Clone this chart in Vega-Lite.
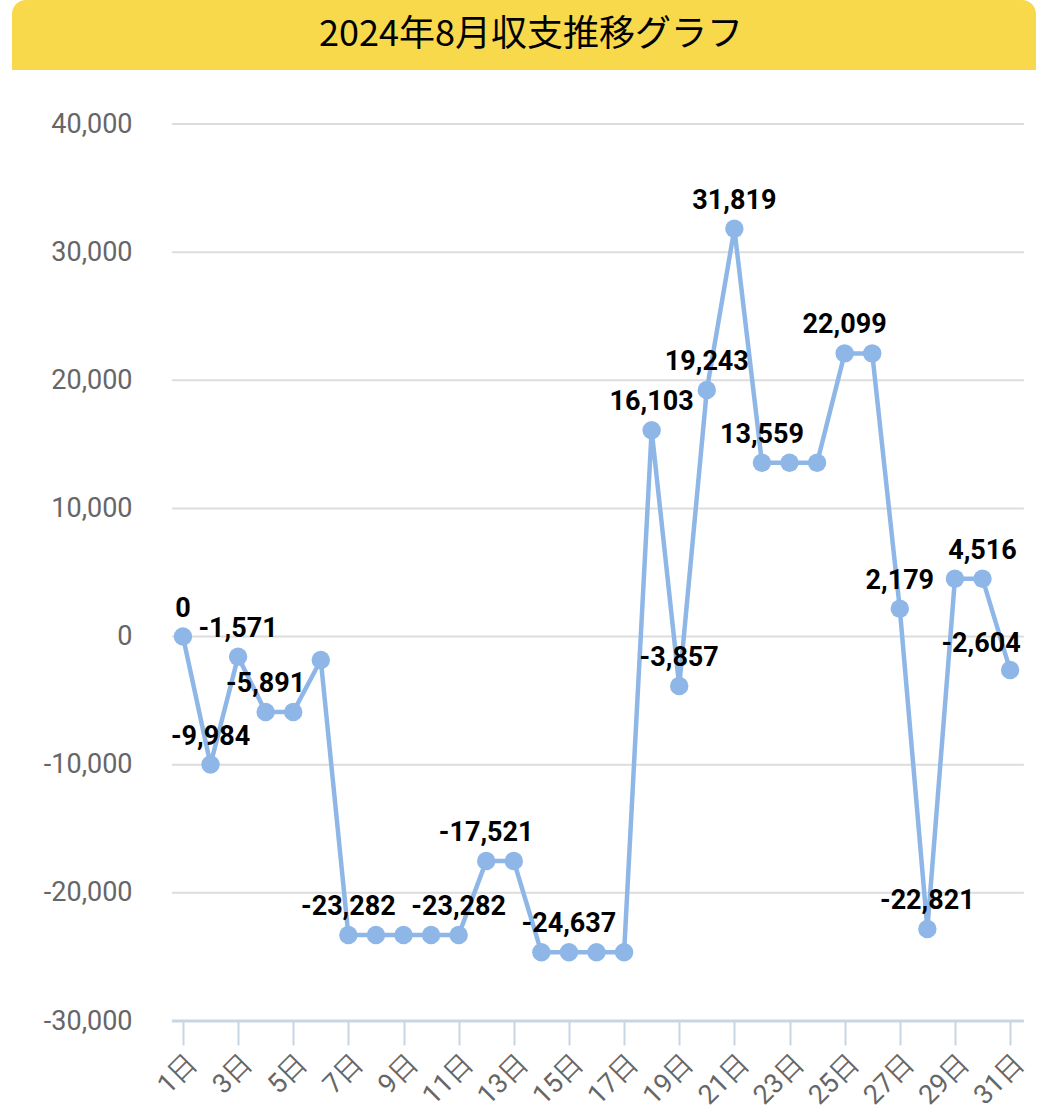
{
  "$schema": "https://vega.github.io/schema/vega-lite/v6.json",
  "padding": {"left": 12, "top": 0, "right": 0, "bottom": 0},
  "background": "white",
  "config": {"view": {"stroke": null}, "font": "Roboto", "concat": {"spacing": 40}},
  "vconcat": [
    {
      "width": 1024,
      "height": 70,
      "data": {"values": [{"title": "2024年8月収支推移グラフ"}]},
      "layer": [
        {
          "mark": {"type": "rect", "color": "#F8D94B", "cornerRadiusTopLeft": 14, "cornerRadiusTopRight": 14},
          "encoding": {"x": {"value": 0}, "x2": {"value": "width"}, "y": {"value": 0}, "y2": {"value": "height"}}
        },
        {
          "mark": {"type": "text", "font": "Noto Sans CJK JP", "fontSize": 36, "color": "#000000", "dx": 7, "baseline": "middle"},
          "encoding": {"text": {"field": "title"}}
        }
      ]
    },
    {
      "width": 1024,
      "height": 897,
      "data": {
        "values": [
          {"day": 1, "value": 0, "label": "0"},
          {"day": 2, "value": -9984, "label": "-9,984"},
          {"day": 3, "value": -1571, "label": "-1,571"},
          {"day": 4, "value": -5891, "label": "-5,891"},
          {"day": 5, "value": -5891, "label": null},
          {"day": 6, "value": -1830, "label": null},
          {"day": 7, "value": -23282, "label": "-23,282"},
          {"day": 8, "value": -23282, "label": null},
          {"day": 9, "value": -23282, "label": null},
          {"day": 10, "value": -23282, "label": null},
          {"day": 11, "value": -23282, "label": "-23,282"},
          {"day": 12, "value": -17521, "label": "-17,521"},
          {"day": 13, "value": -17521, "label": null},
          {"day": 14, "value": -24637, "label": null},
          {"day": 15, "value": -24637, "label": "-24,637"},
          {"day": 16, "value": -24637, "label": null},
          {"day": 17, "value": -24637, "label": null},
          {"day": 18, "value": 16103, "label": "16,103"},
          {"day": 19, "value": -3857, "label": "-3,857"},
          {"day": 20, "value": 19243, "label": "19,243"},
          {"day": 21, "value": 31819, "label": "31,819"},
          {"day": 22, "value": 13559, "label": "13,559"},
          {"day": 23, "value": 13559, "label": null},
          {"day": 24, "value": 13559, "label": null},
          {"day": 25, "value": 22099, "label": "22,099"},
          {"day": 26, "value": 22099, "label": null},
          {"day": 27, "value": 2179, "label": "2,179"},
          {"day": 28, "value": -22821, "label": "-22,821"},
          {"day": 29, "value": 4516, "label": null},
          {"day": 30, "value": 4516, "label": "4,516"},
          {"day": 31, "value": -2604, "label": "-2,604"}
        ]
      },
      "layer": [
        {
          "data": {"values": [{"g": -20000}, {"g": -10000}, {"g": 0}, {"g": 10000}, {"g": 20000}, {"g": 30000}, {"g": 40000}]},
          "mark": {"type": "rule", "color": "#DDDDDD", "strokeWidth": 2},
          "encoding": {
            "x": {"datum": 0.6, "type": "quantitative"},
            "x2": {"datum": 31.5},
            "y": {"field": "g", "type": "quantitative"}
          }
        },
        {
          "data": {"values": [{"g": -30000}]},
          "mark": {"type": "rule", "color": "#C8D5E2", "strokeWidth": 3},
          "encoding": {
            "x": {"datum": 0.6, "type": "quantitative"},
            "x2": {"datum": 31.5},
            "y": {"field": "g", "type": "quantitative"}
          }
        },
        {
          "mark": {"type": "line", "color": "#8EB7E7", "strokeWidth": 4.5},
          "encoding": {
            "x": {
              "field": "day",
              "type": "quantitative",
              "scale": {"domain": [-5.2, 31.94], "nice": false, "zero": false},
              "axis": {
                "values": [1, 3, 5, 7, 9, 11, 13, 15, 17, 19, 21, 23, 25, 27, 29, 31],
                "labelExpr": "datum.value + '日'",
                "grid": false,
                "domain": false,
                "tickColor": "#C8D5E2",
                "tickWidth": 2,
                "tickSize": 24,
                "labelAngle": -45,
                "labelFontSize": 27,
                "labelColor": "#666666",
                "labelPadding": 5,
                "labelOverlap": false,
                "labelFlush": false,
                "title": null
              }
            },
            "y": {
              "field": "value",
              "type": "quantitative",
              "scale": {"domain": [-30000, 40000], "nice": false, "zero": false},
              "axis": {
                "values": [-30000, -20000, -10000, 0, 10000, 20000, 30000, 40000],
                "labelExpr": "replace(format(datum.value, ',.0f'), '−', '-')",
                "grid": false,
                "domain": false,
                "ticks": false,
                "offset": -160,
                "labelPadding": 40,
                "labelFontSize": 27,
                "labelColor": "#666666",
                "title": null
              }
            }
          }
        },
        {
          "mark": {"type": "point", "filled": true, "opacity": 1, "color": "#8EB7E7", "size": 340},
          "encoding": {
            "x": {"field": "day", "type": "quantitative"},
            "y": {"field": "value", "type": "quantitative"}
          }
        },
        {
          "transform": [{"filter": "datum.label != null && datum.day != 31"}],
          "mark": {"type": "text", "fontWeight": "bold", "fontSize": 27, "color": "#000000", "baseline": "middle", "dy": -28},
          "encoding": {
            "x": {"field": "day", "type": "quantitative"},
            "y": {"field": "value", "type": "quantitative"},
            "text": {"field": "label"}
          }
        },
        {
          "transform": [{"filter": "datum.day == 31"}],
          "mark": {"type": "text", "fontWeight": "bold", "fontSize": 27, "color": "#000000", "baseline": "middle", "dy": -26, "dx": -29},
          "encoding": {
            "x": {"field": "day", "type": "quantitative"},
            "y": {"field": "value", "type": "quantitative"},
            "text": {"field": "label"}
          }
        }
      ]
    }
  ]
}
